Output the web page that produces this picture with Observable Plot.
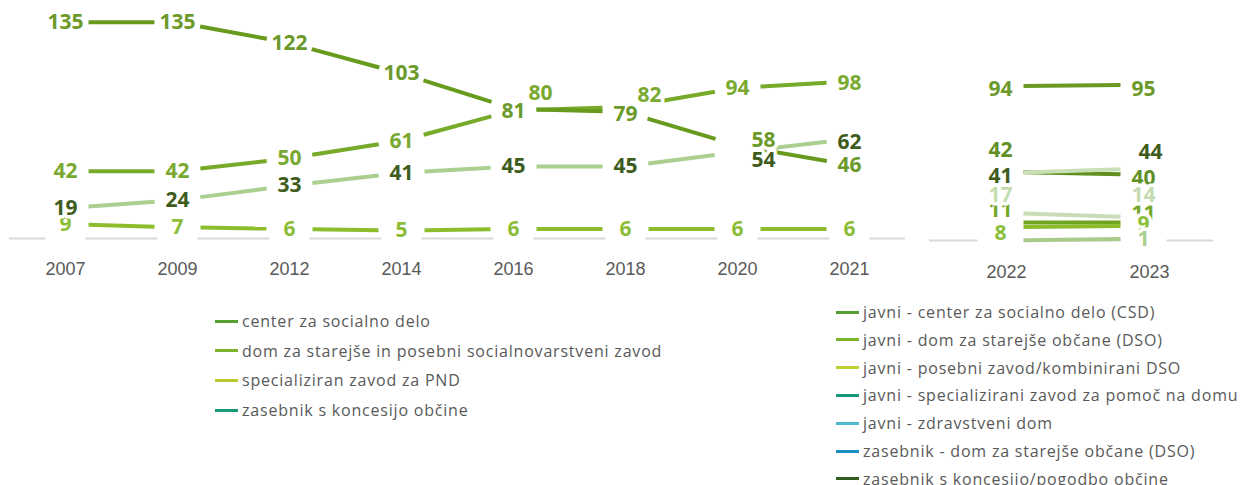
<!DOCTYPE html>
<html><head><meta charset="utf-8">
<script src="https://cdn.jsdelivr.net/npm/d3@7"></script>
<script src="https://cdn.jsdelivr.net/npm/@observablehq/plot@0.6"></script>
<style>
body{margin:0;background:#fff;}
#wrap{position:relative;width:1246px;height:485px;overflow:hidden;font-family:"Open Sans",sans-serif;}
#left{position:absolute;left:0;top:0;}
#right{position:absolute;left:915px;top:0;}
.legend{position:absolute;color:#595959;font-size:16px;letter-spacing:0.8px;}
.legend .row{display:flex;align-items:center;white-space:nowrap;position:absolute;left:0;transform:translateY(-50%);}
.legend .sw{display:inline-block;width:23px;height:3px;margin-right:4px;}
</style></head><body><div id="wrap"><div id="left"></div><div id="right"></div>
<div class="legend" id="legA" style="left:215px;top:0px;"></div>
<div class="legend" id="legB" style="left:836px;top:0px;"></div>
</div>
<script>
// ---- data: panel A (2007–2021)
const yearsA = ["2007","2009","2012","2014","2016","2018","2020","2021"];
const seriesA = ["center za socialno delo","dom za starejše in posebni socialnovarstveni zavod","specializiran zavod za PND","zasebnik s koncesijo občine"];
const csdA = [135,135,122,103,81,79,58,46];
const domA = [42,42,50,61,80,82,94,98];
const pndA = [9,7,6,5,6,6,6,6];
const zasA = [19,24,33,41,45,45,54,62];
const valuesA = [csdA, domA, pndA, zasA];

// ---- data: panel B (2022–2023)
const yearsB = ["2022","2023"];
const seriesB = ["javni - center za socialno delo (CSD)","javni - dom za starejše občane (DSO)","javni - posebni zavod/kombinirani DSO","javni - specializirani zavod za pomoč na domu","javni - zdravstveni dom","zasebnik - dom za starejše občane (DSO)","zasebnik s koncesijo/pogodbo občine"];
const javniCsdB = [42,40];
const javniDsoB = [94,95];
const javniPosebniB = [11,11];
const javniPndB = [8,9];
const javniZdB = [0,1];
const zasDsoB = [17,14];
const zasKoncB = [41,44];
const valuesB = [javniCsdB, javniDsoB, javniPosebniB, javniPndB, javniZdB, zasDsoB, zasKoncB];

// ---- styles
const lineColA = ["#689a1e","#78aa2a","#8dbd2c","#aacf90"];
const textColA = ["#6b9a2b","#79a930","#8cbd38","#3e5c1c"];
const legColA  = ["#55a030","#7cb52c","#b8ca2e","#169a78"];
const lineColB = ["#5f8f1c","#6a9a22","#6fa521","#8cbc2c","#aacb8c","#c8dcb8","#c9dfb6"];
const textColB = ["#5f8f25","#6b9a2b","#74a82a","#8cc03a","#a9cf8e","#c5dcb0","#3e5c1c"];
const legColB  = ["#55a030","#7cb52c","#c0d030","#17987a","#4cbacc","#1b8fbf","#2f5e1f"];
const drawOrderB = [1,0,6,5,2,3,4];

// label nudges [dx, dy] in px, keyed by "panel|seriesIndex|yearIndex"
const nudge = {
  "A|1|4":[27,-17],"A|1|5":[24,-12],"A|0|4":[0,3],"A|0|5":[0,2],
  "A|0|6":[26,-5],"A|3|6":[26,8],"A|3|7":[0,3],"A|1|7":[0,2],
  "B|1|0":[0,3],"B|1|1":[0,5],"B|0|0":[0,-21],"B|0|1":[0,3],
  "B|6|0":[0,3],"B|6|1":[7,-16],"B|5|0":[0,-17],"B|5|1":[0,-22],
  "B|2|0":[0,-12],"B|2|1":[0,-9],"B|3|0":[0,6],"B|3|1":[0,-1]
};

function buildMarks(panel, years, values, lineCol, textCol, order, coverW) {
  const segs = [], labels = [];
  values.forEach((v, s) => {
    for (let i = 0; i < v.length; i++) {
      if (i < v.length - 1) segs.push({s, x1: years[i], y1: v[i], x2: years[i+1], y2: v[i+1]});
      labels.push({s, i, x: years[i], y: v[i], t: String(v[i])});
    }
  });
  const marks = [
    Plot.ruleY([0], {stroke: "#d9d9d9", strokeWidth: 2}),
    Plot.ruleX(years, {x: d => d, y1: -1.5, y2: 1.5, stroke: "white", strokeWidth: coverW, strokeLinecap: "butt"})
  ];
  order.forEach(s => {
    marks.push(Plot.arrow(segs.filter(d => d.s === s), {
      x1: "x1", y1: "y1", x2: "x2", y2: "y2",
      stroke: lineCol[s], strokeWidth: 4, headLength: 0,
      insetStart: 23, insetEnd: 23, strokeLinecap: "butt"
    }));
  });
  labels.filter(d => d.y > 0).forEach(d => {
    const off = nudge[panel + "|" + d.s + "|" + d.i] || [0, 0];
    marks.push(Plot.text([d], {
      x: "x", y: "y", text: "t", fill: textCol[d.s],
      fontSize: 21, fontWeight: 700, fontFamily: "Open Sans",
      stroke: "white", strokeWidth: 7, dx: off[0], dy: off[1]
    }));
  });
  return marks;
}

const plotA = Plot.plot({
  width: 915, height: 290,
  marginLeft: 9, marginRight: 10, marginTop: 0, marginBottom: 52,
  style: {fontFamily: "Liberation Sans", background: "white"},
  x: {type: "point", domain: yearsA, range: [63, 851], padding: 0},
  y: {domain: [0, 140], range: [238, 13.7], axis: null},
  marks: [
    ...buildMarks("A", yearsA, valuesA, lineColA, textColA, [3,2,1,0], 40),
    Plot.axisX({tickSize: 0, tickPadding: 24, fontSize: 18, color: "#595959"})
  ]
});
document.getElementById("left").appendChild(plotA);

const plotB = Plot.plot({
  width: 331, height: 290,
  marginLeft: 14, marginRight: 33, marginTop: 0, marginBottom: 50,
  style: {fontFamily: "Liberation Sans", background: "white"},
  x: {type: "point", domain: yearsB, range: [85, 228], padding: 0},
  y: {domain: [0, 100], range: [240, 76], axis: null},
  marks: [
    ...buildMarks("B", yearsB, valuesB, lineColB, textColB, drawOrderB, 46),
    Plot.axisX({tickSize: 0, tickPadding: 25, fontSize: 18, color: "#595959", dx: 6})
  ]
});
document.getElementById("right").appendChild(plotB);

function legend(el, names, cols, top, step) {
  names.forEach((n, i) => {
    const r = document.createElement("div");
    r.className = "row";
    r.style.top = (top + i * step) + "px";
    r.innerHTML = `<span class="sw" style="background:${cols[i]}"></span><span>${n}</span>`;
    el.appendChild(r);
  });
}
legend(document.getElementById("legA"), seriesA, legColA, 321, 29.7);
legend(document.getElementById("legB"), seriesB, legColB, 312, 27.8);
</script></body></html>
